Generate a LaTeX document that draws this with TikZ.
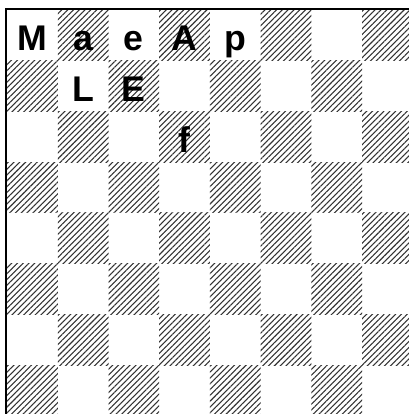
\documentclass[tikz,border=0pt]{standalone}
\usepackage{fontspec}
\setmainfont{Liberation Sans}
\usetikzlibrary{patterns.meta}
\tikzset{
  hatched/.style={pattern={Lines[angle=45,distance=2.3pt,line width=0.6pt]},
                  pattern color=black!80},
  frame/.style={draw, line width=1.1pt},
  piece/.style={anchor=base, inner sep=0pt,
                font=\fontsize{20}{20}\selectfont\bfseries}
}

\begin{document}
\begin{tikzpicture}
  \clip (-0.138,0.039) rectangle (7.921,8.197);
  \foreach \c in {1,...,8}
    \foreach \r in {1,...,8} {
      \ifodd\numexpr\c+\r\relax
        \fill[hatched] (\c-1,8-\r) rectangle (\c,9-\r);
      \fi
    }
  \draw[frame] (-0.02,-0.02) rectangle (8.02,8.02);
  \foreach \c/\r/\t in {1/1/M,2/1/a,3/1/e,4/1/A,5/1/p,2/2/L,3/2/E,4/3/f}
    \node[piece] (sq\c\r) at (\c-0.5,8.2-\r) {\t};
\end{tikzpicture}
\end{document}
